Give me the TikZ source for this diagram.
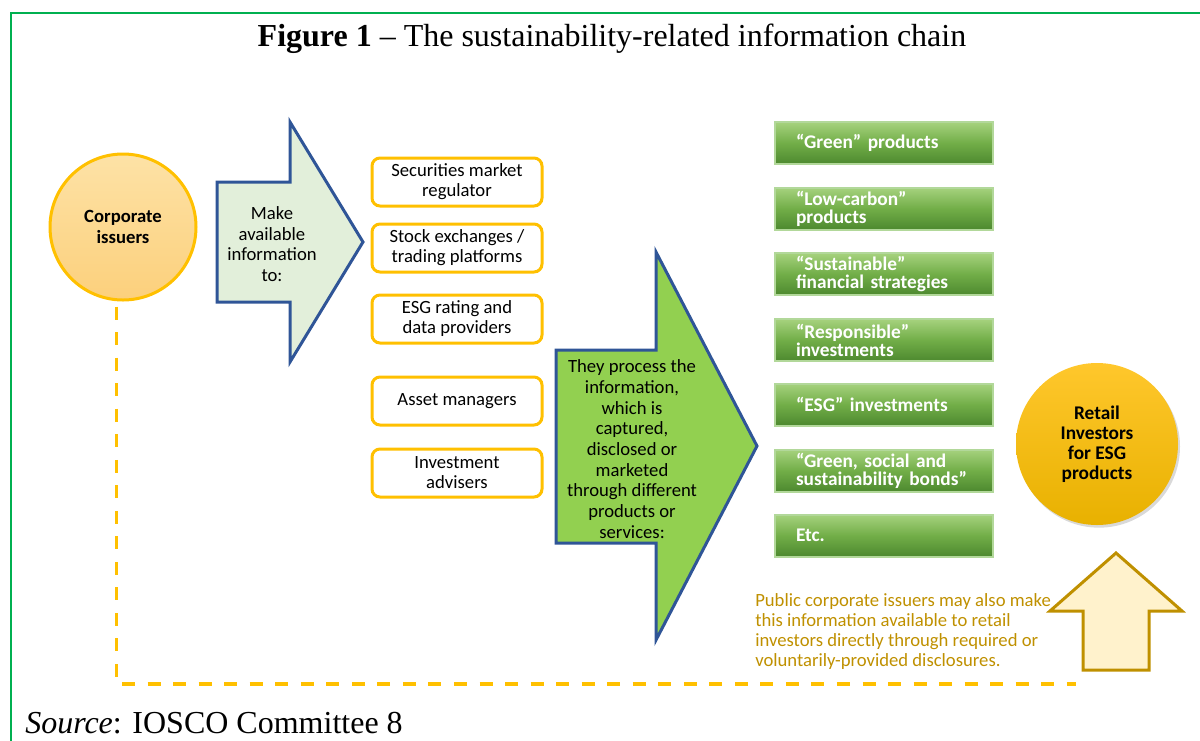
\documentclass[tikz,border=0pt]{standalone}
\usepackage{fontspec}
\setmainfont{Liberation Serif}
\newfontfamily\calibri{Carlito}
\usetikzlibrary{shadows}
\definecolor{frameG}{HTML}{00B050}
\definecolor{gold}{HTML}{FFC000}
\definecolor{arrowBlue}{HTML}{2F5597}
\definecolor{paleGreen}{HTML}{E2EFDA}
\definecolor{limeG}{HTML}{92D050}
\definecolor{gTop}{HTML}{A6D27E}
\definecolor{gMid}{HTML}{72AE48}
\definecolor{gBot}{HTML}{4D892F}
\definecolor{gEdge}{HTML}{B2D89A}
\definecolor{ciTop}{HTML}{FDE2A6}
\definecolor{ciBot}{HTML}{FCD07C}
\definecolor{rtTop}{HTML}{FFC72C}
\definecolor{rtBot}{HTML}{E8B100}
\definecolor{upFill}{HTML}{FFF2CC}
\definecolor{upEdge}{HTML}{BF9000}
\definecolor{noteC}{HTML}{BF9000}
\begin{document}
\begin{tikzpicture}[x=0.75pt,y=-0.75pt,
  txt/.style={font=\calibri\fontsize{14}{15}\selectfont, align=center, inner sep=0pt},
  orbox/.style={draw=gold, line width=2.25pt, rounded corners=6pt, fill=white,
    minimum width=127.5pt, minimum height=36pt, txt},
  grbox/.style={draw=gEdge, line width=1.5pt, top color=gTop, bottom color=gBot, middle color=gMid,
    minimum height=31.5pt, text width=132pt, inner xsep=15.75pt, inner ysep=0pt,
    align=left, text=white, font=\calibri\bfseries\fontsize{14.5}{13.5}\selectfont},
  bigarrow/.style={draw=arrowBlue, line width=2.25pt, line join=miter},
  dashline/.style={draw=gold, line width=2.5pt, dash pattern=on 9.75pt off 9.4pt}
]
\useasboundingbox (0,0) rectangle (1200,740);
% frame
\draw[frameG, line width=1.5pt] (11,745) -- (11,13) -- (1205,13);
% title and source
\node[anchor=base, inner sep=0pt, font=\fontsize{24}{28}\selectfont] (title) at (612,46)
  {\textbf{Figure 1} – The sustainability-related information chain};
\node[anchor=base west, inner sep=0pt, font=\fontsize{24}{28}\selectfont] (src) at (25,733)
  {\textit{Source}: IOSCO Committee 8};

% corporate issuers
\node[circle, draw=gold, line width=2.25pt, top color=ciTop, bottom color=ciBot,
  minimum size=109.5pt, txt, font=\calibri\bfseries\fontsize{14}{15.5}\selectfont] (ci) at (123,227)
  {Corporate\\issuers};

% dashed connector
\coordinate (dend) at (1076,684);
\draw[dashline] ([yshift=-4pt]ci.-95) |- (dend);

% arrow 1
\draw[bigarrow, fill=paleGreen] (217,182) -- (290,182) -- (290,122) -- (363,242)
  -- (290,362) -- (290,302) -- (217,302) -- cycle;
\node[txt, font=\calibri\fontsize{14}{15.4}\selectfont] (make) at (272,244)
  {Make\\available\\information\\to:};

% orange boxes
\node[orbox] (o1) at (457,182) {Securities market\\regulator};
\node[orbox] (o2) at (457,248) {Stock exchanges /\\trading platforms};
\node[orbox] (o3) at (457,319) {ESG rating and\\data providers};
\node[orbox] (o4) at (457,401) {Asset managers};
\node[orbox] (o5) at (457,473) {Investment\\advisers};

% arrow 2
\draw[bigarrow, fill=limeG] (556,350) -- (656,350) -- (656,252) -- (757,446)
  -- (656,640) -- (656,543) -- (556,543) -- cycle;
\node[txt, font=\calibri\fontsize{14}{15.5}\selectfont] (proc) at (632,449)
  {They process the\\information,\\which is\\captured,\\disclosed or\\marketed\\through different\\products or\\services:};

% green product boxes
\node[grbox] (g1) at (884,143) {“Green” products};
\node[grbox] (g2) at (884,208.5) {“Low-carbon”\\products};
\node[grbox] (g3) at (884,274) {“Sustainable”\\financial strategies};
\node[grbox] (g4) at (884,340) {“Responsible”\\investments};
\node[grbox] (g5) at (884,404.5) {“ESG” investments};
\node[grbox] (g6) at (884,470.5) {“Green, social and\\sustainability bonds”};
\node[grbox] (g7) at (884,535.5) {Etc.};

% retail investors
\node[circle, top color=rtTop, bottom color=rtBot, minimum size=121.5pt,
  drop shadow={shadow xshift=1.5pt, shadow yshift=-2pt, opacity=0.3},
  txt, font=\calibri\bfseries\fontsize{14.5}{15}\selectfont] (ri) at (1097,444)
  {Retail\\Investors\\for ESG\\products};

% up arrow
\draw[draw=upEdge, line width=2.25pt, fill=upFill, line join=miter] (1116,553) -- (1182,611) -- (1149,611)
  -- (1149,670) -- (1083,670) -- (1083,611) -- (1050,611) -- cycle;

% note
\node[anchor=north west, align=left, inner sep=0pt, text=noteC,
  font=\calibri\fontsize{14}{15}\selectfont] (note) at (755,593)
  {Public corporate issuers may also make\\this information available to retail\\investors directly through required or\\voluntarily-provided disclosures.};
\end{tikzpicture}
\end{document}
